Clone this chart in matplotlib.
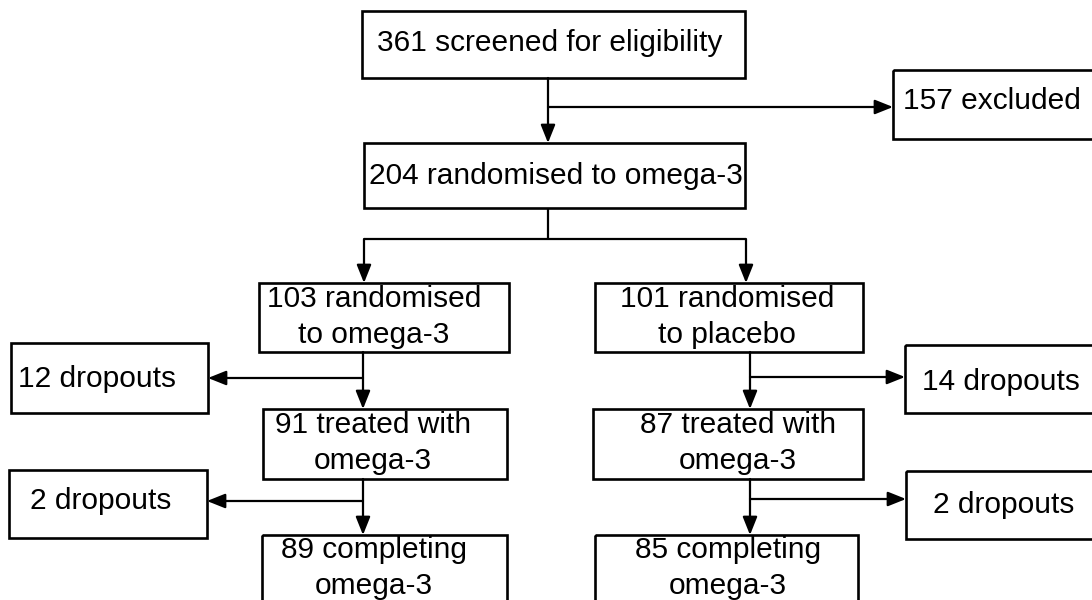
import matplotlib.pyplot as plt
from matplotlib.patches import Rectangle, FancyArrowPatch

plt.rcParams['font.family'] = ['Liberation Sans', 'DejaVu Sans']

# flow numbers
screened = 361
excluded = 157
randomised = 204
arms = ['omega-3', 'placebo']
arm_randomised = [103, 101]
arm_dropouts_1 = [12, 14]
arm_treated = [91, 87]
arm_dropouts_2 = [2, 2]
arm_completing = [89, 85]

fig = plt.figure(figsize=(10.92, 6.0), dpi=100)
ax = fig.add_axes([0, 0, 1, 1])
ax.set_xlim(0, 1092)
ax.set_ylim(600, 0)
ax.axis('off')

FS = 21.5
BOX_LW = 1.9
LINE_LW = 1.6


def box(x0, y0, x1, y1):
    ax.add_patch(Rectangle((x0, y0), x1 - x0, y1 - y0, fill=False,
                           edgecolor='black', lw=BOX_LW, clip_on=True))


def label(x, y, s, ha='center'):
    ax.text(x, y, s, ha=ha, va='center', fontsize=FS, linespacing=1.33)


def line(x0, y0, x1, y1):
    ax.plot([x0, x1], [y0, y1], color='black', lw=LINE_LW,
            solid_capstyle='butt')


def arrow(x0, y0, x1, y1):
    ax.add_patch(FancyArrowPatch((x0, y0), (x1, y1),
                                 arrowstyle='-|>,head_length=0.55,head_width=0.22',
                                 mutation_scale=20, color='black', lw=LINE_LW,
                                 shrinkA=0, shrinkB=0))


# top part
box(362, 11, 745, 78)
label(550, 43, f'{screened} screened for eligibility')
box(893, 70, 1100, 139)
label(903, 101, f'{excluded} excluded', ha='left')
box(364, 143, 745, 208)
label(556, 176, f'{randomised} randomised to omega-3')

arrow(548, 78, 548, 143)
arrow(548, 107, 893, 107)
line(548, 208, 548, 239)
line(364, 239, 746, 239)
arrow(364, 239, 364, 283)
arrow(746, 239, 746, 283)

# arm layout: drop line x, text x, box x-ranges, dropout boxes
layout = [
    dict(drop=363, tx=[374, 373, 374],
         boxes=[(259, 509), (263, 507), (262, 507)],
         dbox=[(11, 208, 343, 413), (9, 207, 470, 538)],
         dtx=[97, 101], dty=[379, 501], ay=[378, 501], side=-1),
    dict(drop=750, tx=[727, 738, 728],
         boxes=[(595, 863), (593, 863), (595, 858)],
         dbox=[(905, 1100, 345, 413), (906, 1100, 471, 539)],
         dtx=[1001, 1004], dty=[382, 505], ay=[377, 499], side=1),
]
rows = [(283, 352, 317), (409, 479, 443), (535, 640, 568)]

for i, arm in enumerate(arms):
    L = layout[i]
    texts = [f'{arm_randomised[i]} randomised\nto {arm}',
             f'{arm_treated[i]} treated with\nomega-3',
             f'{arm_completing[i]} completing\nomega-3']
    for (bx0, bx1), (y0, y1, ty), tx, s in zip(L['boxes'], rows, L['tx'], texts):
        box(bx0, y0, bx1, y1)
        label(tx, ty, s)
    drops = [arm_dropouts_1[i], arm_dropouts_2[i]]
    for k in range(2):
        x0, x1, y0, y1 = L['dbox'][k]
        box(x0, y0, x1, y1)
        label(L['dtx'][k], L['dty'][k], f'{drops[k]} dropouts')
        arrow(L['drop'], rows[k][1], L['drop'], rows[k + 1][0])
        end = x1 if L['side'] < 0 else x0
        arrow(L['drop'], L['ay'][k], end, L['ay'][k])

fig.savefig('out.png', dpi=100)
